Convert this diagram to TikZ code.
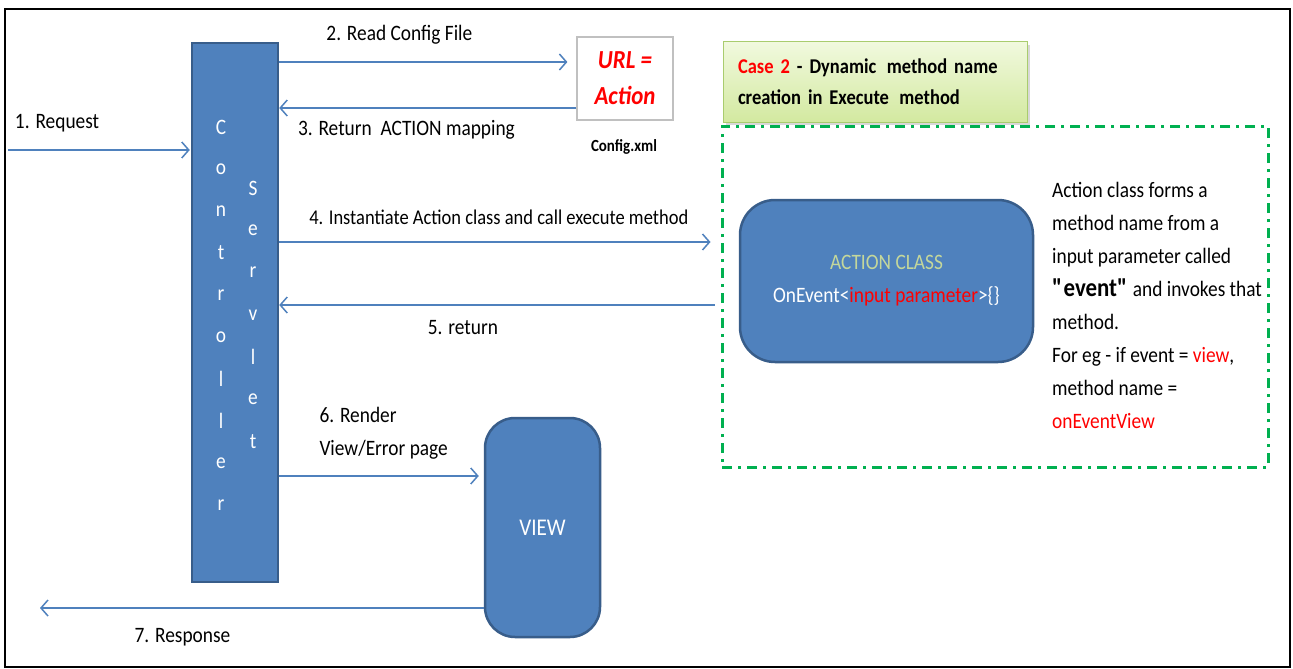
\documentclass[tikz,border=0pt]{standalone}
\usepackage{fontspec}
\setmainfont{Carlito}[FakeStretch=0.88]
\usetikzlibrary{arrows.meta,shadows,positioning}
\definecolor{boxblue}{HTML}{4F81BD}
\definecolor{boxedge}{HTML}{385D8A}
\definecolor{zonegreen}{HTML}{00B050}
\definecolor{actgreen}{HTML}{C4D79B}
\definecolor{notetop}{HTML}{F1F9DE}
\definecolor{notebot}{HTML}{D3E9A0}
\definecolor{noteedge}{HTML}{A9CC6E}
\definecolor{cfgedge}{HTML}{C0C0C0}
\tikzset{
  flow/.style={draw=boxblue, line width=1.5pt, -{Straight Barb[length=7pt,width=16pt,line width=1.5pt]}},
  lbl/.style={font=\fontsize{22}{33}\selectfont, inner sep=0pt},
  bluebox/.style={fill=boxblue, draw=boxedge, line width=2.5pt, text=white, inner sep=0pt},
  letter/.style={text=white, font=\fontsize{22}{26}\selectfont, inner sep=0pt},
  zonebox/.style={draw=zonegreen, line width=3pt, dash pattern=on 10pt off 6pt on 3pt off 6pt},
}
\newcommand{\redtxt}[1]{\textcolor{red}{#1}}

\begin{document}
\begin{tikzpicture}[x=1pt,y=-1pt]
  \useasboundingbox[fill=white] (0,0) rectangle (1293,669);
  \draw[line width=2pt] (5,9) rectangle (1290,667);

  % controller servlet
  \node[bluebox, minimum width=86pt, minimum height=539pt] (ctrl) at (235,312.5) {};
  \foreach \ch [count=\i from 0] in {C,o,n,t,r,o,l,l,e,r}
    \node[letter] (c\i) at (221,{127+42*\i}) {\ch};
  \foreach \ch [count=\i from 0] in {S,e,r,v,l,e,t}
    \node[letter] (s\i) at (253,{188+42.3*\i}) {\ch};

  % config file
  \node[draw=cfgedge, line width=1.2pt, minimum width=96pt, minimum height=83pt, inner sep=0pt, align=center,
        text=red, font=\fontsize{26}{36}\selectfont\bfseries\itshape] (cfg) at (625,78.5) {URL =\\Action};
  \node[font=\fontsize{17}{20}\selectfont\bfseries, inner sep=0pt] (cfgname) at (624,147) {Config.xml};

  % case 2
  \node[zonebox, minimum width=546pt, minimum height=341pt] (zone) at (995,296.5) {};
  \node[draw=noteedge, line width=1pt, top color=notetop, bottom color=notebot,
        drop shadow={shadow xshift=3pt, shadow yshift=-3pt, opacity=0.3},
        minimum width=304pt, minimum height=80pt, text width=274pt, inner xsep=15pt, align=left,
        font=\fontsize{21}{31}\selectfont\bfseries] (case) at (875,82)
        {\redtxt{Case 2} - Dynamic\, method name\\creation in Execute\, method};
  \node[bluebox, rounded corners=35pt, minimum width=293pt, minimum height=162pt, align=center,
        font=\fontsize{22}{33}\selectfont] (act) at (886.5,281)
        {\textcolor{actgreen}{ACTION CLASS}\\OnEvent<\redtxt{input parameter}>\{\}};
  \node[anchor=north west, inner sep=0pt, align=left, font=\fontsize{22}{33}\selectfont] (note) at (1052,182)
        {Action class forms a\\method name from a\\input parameter called\\
         {\fontsize{26}{33}\selectfont\bfseries\textquotedbl event\textquotedbl} and invokes that\\method.\\
         For eg - if event = \redtxt{view},\\method name =\\\redtxt{onEventView}};

  % view
  \node[bluebox, rounded corners=30pt, minimum width=115pt, minimum height=219pt,
        font=\fontsize{24}{28}\selectfont] (view) at (542.5,527.5) {VIEW};

  % flows
  \coordinate (client) at (8,150);
  \coordinate (back) at (40,608);
  \draw[flow] (client) -- ([xshift=-1pt]ctrl.west |- client)
    node[lbl, pos=.27, yshift=27pt] (l1) {1. Request};
  \draw[flow] (ctrl.east |- 0,62) -- ([xshift=-9pt]cfg.west |- 0,62)
    node[lbl, pos=.417, yshift=27pt] (l2) {2. Read Config File};
  \draw[flow] (cfg.west |- 0,108) -- (ctrl.east |- 0,108)
    node[lbl, pos=.572, yshift=-22pt] (l3) {3. Return\ \ ACTION mapping};
  \draw[flow] (ctrl.east |- 0,242) -- ([xshift=-10pt]zone.west |- 0,242)
    node[lbl, pos=.509, yshift=25pt, font=\fontsize{21}{33}\selectfont] (l4) {4. Instantiate Action class and call execute method};
  \draw[flow] ([xshift=-6pt]zone.west |- 0,305) -- (ctrl.east |- 0,305)
    node[lbl, pos=.578, yshift=-23pt] (l5) {5. return};
  \draw[flow] (ctrl.east |- 0,476) -- ([xshift=-5pt]view.west |- 0,476)
    node[lbl, pos=.198, anchor=west, yshift=42.5pt, align=left] (l6) {6. Render\\View/Error page};
  \draw[flow] (view.west |- 0,608) -- (back)
    node[lbl, pos=.679, yshift=-29pt] (l7) {7. Response};
\end{tikzpicture}
\end{document}
